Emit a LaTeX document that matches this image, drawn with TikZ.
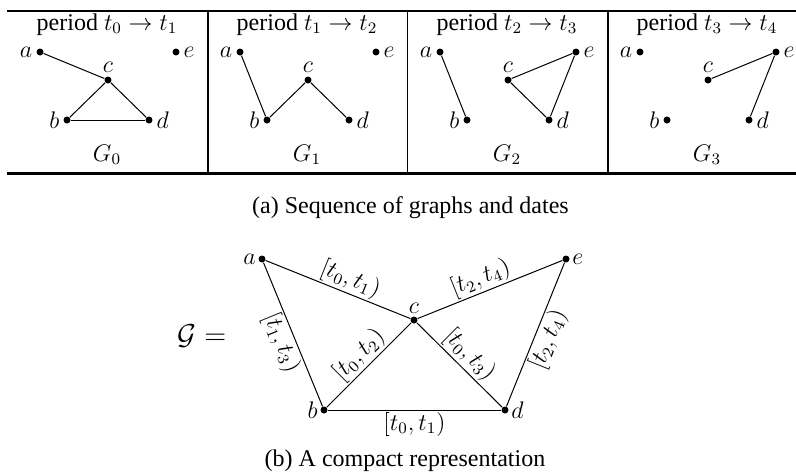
\documentclass[tikz,border=0pt]{standalone}
\usepackage{fontspec}
\setmainfont{Liberation Serif}
\usetikzlibrary{positioning}

\begin{document}
\begin{tikzpicture}[
    x=0.5pt, y=-0.5pt,
    every node/.style={font=\fontsize{12}{14}\selectfont},
    vertex/.style={circle, fill=black, inner sep=0pt, minimum size=3.5pt},
    every label/.style={inner sep=1.5pt},
    label distance=0.2pt,
    link/.style={line width=0.5pt},
    elabel/.style={inner sep=0.8pt, sloped},
    hrule/.style={line width=1.2pt},
    vsep/.style={line width=0.9pt}
]
\useasboundingbox (0,0) rectangle (796,473);

% Sequence of graphs
\draw [hrule] (7,10.7) -- (796,10.7);
\draw [hrule] (7,173.3) -- (796,173.3);
\foreach \x in {208,407.5,608}
  \draw [vsep] (\x,12) -- (\x,172);

\foreach \k in {0,...,3} {
  \pgfmathtruncatemacro\nxt{\k+1}
  \node (a\k) [vertex, label=left:$a$] at (40+200*\k,52) {};
  \node (e\k) [vertex, label=right:$e$] at (176+200*\k,52) {};
  \node (c\k) [vertex, label=above:$c$] at (108+200*\k,80) {};
  \node (b\k) [vertex, label=left:$b$] at (67+200*\k,120) {};
  \node (d\k) [vertex, label=right:$d$] at (149+200*\k,120) {};
  \node (period\k) [anchor=base] at (107+200*\k,30) {period $t_{\k} \rightarrow t_{\nxt}$};
  \node (name\k) [anchor=base] at (107+200*\k,161) {$G_{\k}$};
}

\draw [link] (a0) -- (c0);
\draw [link] (c0) -- (b0);
\draw [link] (c0) -- (d0);
\draw [link] (b0) -- (d0);

\draw [link] (a1) -- (b1);
\draw [link] (b1) -- (c1);
\draw [link] (c1) -- (d1);

\draw [link] (a2) -- (b2);
\draw [link] (c2) -- (e2);
\draw [link] (c2) -- (d2);
\draw [link] (d2) -- (e2);

\draw [link] (c3) -- (e3);
\draw [link] (e3) -- (d3);

\node (capa) [anchor=base] at (410.5,213) {(a) Sequence of graphs and dates};

% Compact representation
\begin{scope}[every label/.style={inner sep=1pt}, label distance=0pt]
\node (ga) [vertex, label=left:$a$] at (262,259) {};
\node (ge) [vertex, label=right:$e$] at (566,259) {};
\node (gc) [vertex, label=above:$c$] at (414,320) {};
\node (gb) [vertex, label=left:$b$] at (324,410) {};
\node (gd) [vertex, label=right:$d$] at (505,410) {};
\end{scope}

\node (calg) [anchor=base, font=\fontsize{14.4}{16}\selectfont] at (202,344) {$\mathcal{G} =$};

\draw [link] (ga) -- node [elabel, above, pos=0.55] {$[t_0, t_1)$} (gc);
\draw [link] (gc) -- node [elabel, above, pos=0.47] {$[t_2, t_4)$} (ge);
\draw [link] (ga) -- node [elabel, below, pos=0.52] {$[t_1, t_3)$} (gb);
\draw [link] (gb) -- node [elabel, above, pos=0.5] {$[t_0, t_2)$} (gc);
\draw [link] (gc) -- node [elabel, above, pos=0.5] {$[t_0, t_3)$} (gd);
\draw [link] (gd) -- node [elabel, below, pos=0.5] {$[t_2, t_4)$} (ge);
\draw [link] (gb) -- node [elabel, below] {$[t_0, t_1)$} (gd);

\node (capb) [anchor=base] at (405,466) {(b) A compact representation};
\end{tikzpicture}
\end{document}
